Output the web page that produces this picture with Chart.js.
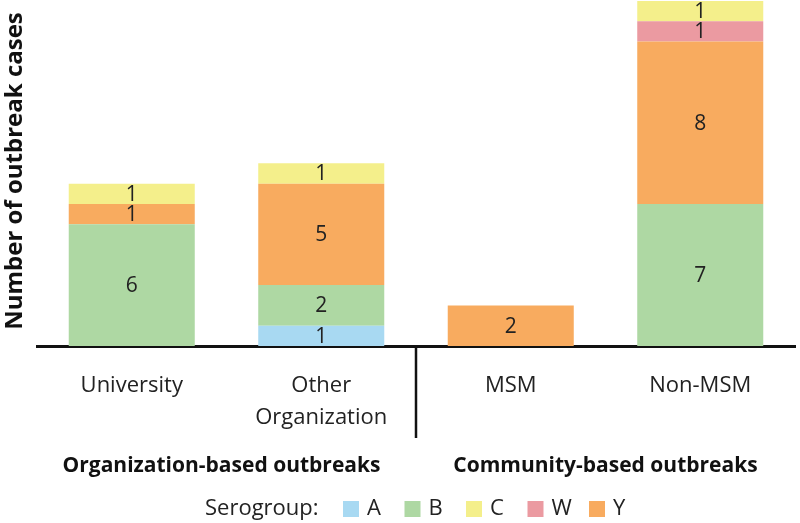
<!DOCTYPE html>
<html>
<head>
<meta charset="utf-8">
<script src="https://cdn.jsdelivr.net/npm/chart.js@4"></script>
<style>
  html, body { margin: 0; padding: 0; background: #fff; }
  #wrap { width: 800px; height: 523px; position: relative; }
</style>
</head>
<body>
<div id="wrap"><canvas id="chartCanvas"></canvas></div>
<script>
var CATEGORIES = ['University', ['Other', 'Organization'], 'MSM', 'Non-MSM'];
var GROUPS = ['Organization-based outbreaks', 'Community-based outbreaks'];

var SEROGROUP_A = [0, 1, 0, 0];
var SEROGROUP_B = [6, 2, 0, 7];
var SEROGROUP_Y = [1, 5, 2, 8];
var SEROGROUP_W = [0, 0, 0, 1];
var SEROGROUP_C = [1, 1, 0, 1];

var COLORS = { A: '#a8d9f2', B: '#aed8a3', C: '#f4ef8b', W: '#eb9aa1', Y: '#f8ab5f' };
var LEGEND_ORDER = ['A', 'B', 'C', 'W', 'Y'];
var FONT = "'Open Sans', sans-serif";

function ds(label, data) {
  return {
    label: label,
    data: data,
    backgroundColor: COLORS[label],
    borderWidth: 0,
    categoryPercentage: 1,
    barPercentage: 0.665
  };
}

var extras = {
  id: 'extras',
  afterDatasetsDraw(chart) {
    var ctx = chart.ctx;
    var x = chart.scales.x, y = chart.scales.y;
    ctx.save();
    // value labels
    ctx.fillStyle = '#222';
    ctx.font = '21px ' + FONT;
    ctx.textAlign = 'center';
    ctx.textBaseline = 'middle';
    chart.data.datasets.forEach(function (d, i) {
      chart.getDatasetMeta(i).data.forEach(function (bar, j) {
        if (!d.data[j]) return;
        ctx.fillText(String(d.data[j]), bar.x, (bar.y + bar.base) / 2 + 1);
      });
    });
    // divider between groups
    var mid = (x.getPixelForValue(1) + x.getPixelForValue(2)) / 2;
    ctx.strokeStyle = '#111';
    ctx.lineWidth = 2.5;
    ctx.beginPath();
    ctx.moveTo(mid, y.bottom);
    ctx.lineTo(mid, 438);
    ctx.stroke();
    // group labels
    ctx.font = 'bold 21px ' + FONT;
    ctx.fillStyle = '#111';
    ctx.fillText(GROUPS[0], (x.getPixelForValue(0) + x.getPixelForValue(1)) / 2 - 5, 466);
    ctx.fillText(GROUPS[1], (x.getPixelForValue(2) + x.getPixelForValue(3)) / 2, 466);
    // y title
    ctx.save();
    ctx.translate(15, 171);
    ctx.rotate(-Math.PI / 2);
    ctx.font = 'bold 24px ' + FONT;
    ctx.fillText('Number of outbreak cases', 0, 0);
    ctx.restore();
    // legend
    ctx.font = '22px ' + FONT;
    ctx.textAlign = 'left';
    ctx.fillStyle = '#222';
    ctx.fillText('Serogroup:', 205, 509);
    LEGEND_ORDER.forEach(function (k, i) {
      var lx = 343 + i * 61.5;
      ctx.fillStyle = COLORS[k];
      ctx.fillRect(lx, 501, 16, 16);
      ctx.fillStyle = '#222';
      ctx.fillText(k, lx + 24, 509);
    });
    ctx.restore();
  }
};

new Chart(document.getElementById('chartCanvas'), {
  type: 'bar',
  data: {
    labels: CATEGORIES,
    datasets: [
      ds('A', SEROGROUP_A),
      ds('B', SEROGROUP_B),
      ds('Y', SEROGROUP_Y),
      ds('W', SEROGROUP_W),
      ds('C', SEROGROUP_C)
    ]
  },
  options: {
    responsive: true,
    maintainAspectRatio: false,
    animation: false,
    layout: { padding: { top: 1, left: 37, right: 5, bottom: 0 } },
    plugins: { legend: { display: false }, tooltip: { enabled: false } },
    scales: {
      x: {
        stacked: true,
        grid: { display: false, drawTicks: false },
        border: { display: true, color: '#111', width: 3 },
        ticks: { color: '#222', font: { family: FONT, size: 22, lineHeight: 1.45 }, padding: 24, maxRotation: 0 },
        afterFit: function (scale) { scale.height = 177; }
      },
      y: {
        stacked: true,
        display: false,
        min: 0,
        max: 17
      }
    }
  },
  plugins: [extras]
});
</script>
</body>
</html>
